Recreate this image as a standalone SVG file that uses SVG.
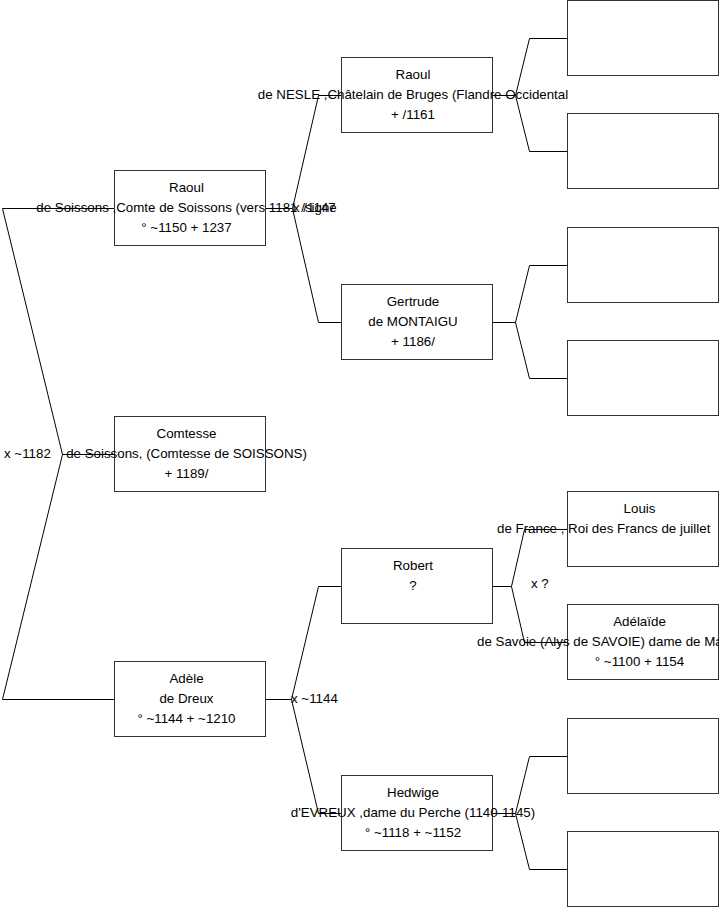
<svg xmlns="http://www.w3.org/2000/svg" width="719" height="908" viewBox="0 0 719 908">
<style>
.box{fill:#fff;stroke:#333;stroke-width:1}
.t{font-family:"Liberation Sans",Arial,sans-serif;font-size:13.33px;fill:#000;text-anchor:middle}
.s{text-anchor:start}
.c{fill:none;stroke:#000;stroke-width:1}
</style>
<rect width="719" height="908" fill="#fff"/>
<g id="connectors" class="c">
<path d="M114,208.5 H2.5 L62.5,454.5 L2.5,699.5 H114 M62.5,454.5 H114"/>
<path d="M265,208.5 H292.5 L318.5,95.5 H341 M292.5,208.5 L318.5,322.5 H341"/>
<path d="M265,699.5 H291.5 L318.5,586.5 H341 M291.5,699.5 L318.5,813.5 H341"/>
<path d="M492,95.5 H515.5 L529.5,38.5 H567 M515.5,95.5 L529.5,151.5 H567"/>
<path d="M492,322.5 H515.5 L529.5,265.5 H567 M515.5,322.5 L529.5,378.5 H567"/>
<path d="M492,586.5 H511.5 L524.5,529.5 H567 M511.5,586.5 L524.5,642.5 H567"/>
<path d="M492,813.5 H515.5 L529.5,756.5 H567 M515.5,813.5 L529.5,869.5 H567"/>
</g>
<g id="labels">
<text class="t s" x="4" y="458">x ~1182</text>
<text class="t s" x="293" y="212">x /1147</text>
<text class="t s" x="291" y="703">x ~1144</text>
<text class="t s" x="531" y="588">x ?</text>
</g>
<g id="n-raoul-soissons">
<rect class="box" x="114.5" y="170.5" width="151" height="75"/>
<text class="t" x="186.5" y="192">Raoul</text>
<text class="t" x="186.5" y="212">de Soissons ,Comte de Soissons (vers 1181 /signe</text>
<text class="t" x="186.5" y="232">° ~1150 + 1237</text>
</g>
<g id="n-comtesse">
<rect class="box" x="114.5" y="416.5" width="151" height="75"/>
<text class="t" x="186.5" y="438">Comtesse</text>
<text class="t" x="186.5" y="458">de Soissons, (Comtesse de SOISSONS)</text>
<text class="t" x="186.5" y="478">+ 1189/</text>
</g>
<g id="n-adele">
<rect class="box" x="114.5" y="661.5" width="151" height="75"/>
<text class="t" x="186.5" y="683">Adèle</text>
<text class="t" x="186.5" y="703">de Dreux</text>
<text class="t" x="186.5" y="723">° ~1144 + ~1210</text>
</g>
<g id="n-raoul-nesle">
<rect class="box" x="341.5" y="57.5" width="151" height="75"/>
<text class="t" x="413" y="79">Raoul</text>
<text class="t" x="413" y="99">de NESLE ,Châtelain de Bruges (Flandre Occidental</text>
<text class="t" x="413" y="119">+ /1161</text>
</g>
<g id="n-gertrude">
<rect class="box" x="341.5" y="284.5" width="151" height="75"/>
<text class="t" x="413" y="306">Gertrude</text>
<text class="t" x="413" y="326">de MONTAIGU</text>
<text class="t" x="413" y="346">+ 1186/</text>
</g>
<g id="n-robert">
<rect class="box" x="341.5" y="548.5" width="151" height="75"/>
<text class="t" x="413" y="570">Robert</text>
<text class="t" x="413" y="590">?</text>
</g>
<g id="n-hedwige">
<rect class="box" x="341.5" y="775.5" width="151" height="75"/>
<text class="t" x="413" y="797">Hedwige</text>
<text class="t" x="413" y="817">d'EVREUX ,dame du Perche (1140-1145)</text>
<text class="t" x="413" y="837">° ~1118 + ~1152</text>
</g>
<g id="n-empty1"><rect class="box" x="567.5" y="0.5" width="151" height="75"/></g>
<g id="n-empty2"><rect class="box" x="567.5" y="113.5" width="151" height="75"/></g>
<g id="n-empty3"><rect class="box" x="567.5" y="227.5" width="151" height="75"/></g>
<g id="n-empty4"><rect class="box" x="567.5" y="340.5" width="151" height="75"/></g>
<g id="n-louis">
<rect class="box" x="567.5" y="491.5" width="151" height="75"/>
<text class="t" x="639.5" y="513">Louis</text>
<text class="t s" x="497" y="533">de France , Roi des Francs de juillet</text>
</g>
<g id="n-adelaide">
<rect class="box" x="567.5" y="604.5" width="151" height="75"/>
<text class="t" x="639.5" y="626">Adélaïde</text>
<text class="t s" x="477" y="646">de Savoie (Alys de SAVOIE) dame de Ma</text>
<text class="t" x="639.5" y="666">° ~1100 + 1154</text>
</g>
<g id="n-empty5"><rect class="box" x="567.5" y="718.5" width="151" height="75"/></g>
<g id="n-empty6"><rect class="box" x="567.5" y="831.5" width="151" height="75"/></g>
</svg>
